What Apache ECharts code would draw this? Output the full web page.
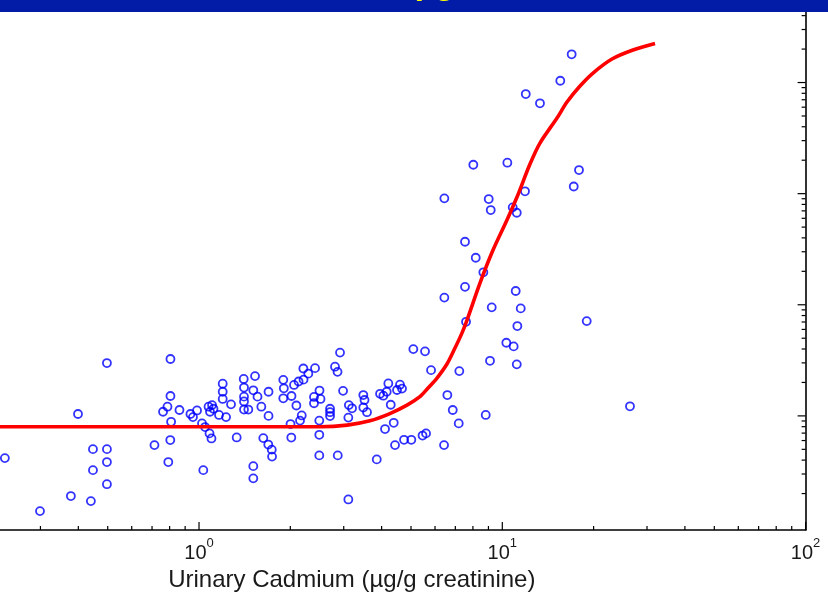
<!DOCTYPE html>
<html>
<head>
<meta charset="utf-8">
<script src="https://cdn.jsdelivr.net/npm/echarts@6/dist/echarts.min.js"></script>
<style>
  html, body { margin: 0; padding: 0; background: #ffffff; }
  #chart { width: 828px; height: 592px; }
</style>
</head>
<body>
<div id="chart"></div>
<script>
// Urinary cadmium (µg/g creatinine) for each subject
const cadmium = [
  0.229, 0.299, 0.378, 0.440, 0.399, 0.497, 0.447, 0.497, 0.447, 0.497, 0.497,
  0.713, 0.805, 0.805, 0.787, 0.761, 0.809, 0.804, 0.792, 0.862, 0.937, 0.955, 0.985,
  1.023, 1.047, 1.083, 1.099, 1.033, 1.075, 1.104, 1.116, 1.087, 1.164, 1.228, 1.197,
  1.197, 1.197, 1.275, 1.331, 1.404, 1.407, 1.407, 1.407, 1.407, 1.454, 1.530, 1.510,
  1.559, 1.605, 1.695, 1.695, 1.629, 1.692, 1.737, 1.741, 1.510, 1.510,
  1.896, 1.904, 1.896, 2.057, 2.018, 2.094, 2.208, 2.293, 2.413, 2.129, 2.211, 2.181,
  2.153, 2.003, 2.015, 2.394, 2.394, 2.515, 2.496, 2.492, 2.492, 2.492,
  2.917, 2.808, 2.862, 2.985, 2.704, 2.704, 2.704, 2.867, 3.107, 3.119, 3.195, 3.481,
  3.513, 3.481, 3.580, 3.953, 4.053, 4.209, 4.158, 4.599, 4.670, 4.496, 4.287, 4.385,
  4.105, 4.429, 4.742, 5.012, 5.458, 5.604, 3.855, 3.107, 5.089, 5.562, 5.822,
  7.215, 6.588, 6.864, 7.183, 6.425, 8.817, 9.109, 10.31, 10.90, 11.16, 16.93, 15.53,
  11.95, 13.31, 8.024, 10.39, 17.90, 17.20, 6.440, 9.020, 9.158, 11.88, 10.82, 11.16,
  7.534, 8.173, 8.659, 7.534, 6.440, 11.07, 9.228, 11.50, 18.98, 7.592, 11.21, 26.36
];

// Urinary β2-microglobulin (µg/g creatinine), same order as cadmium
const beta2mg = [
  41.7, 13.9, 19.0, 17.1, 104, 299, 50.2, 50.2, 32.5, 38.4, 24.3,
  54.6, 325, 151, 121, 109, 88.5, 60.6, 38.4, 113, 104, 97.5, 112,
  85.6, 79.3, 69.6, 62.7, 32.5, 121, 125, 116, 109, 102, 97.5, 195,
  165, 142, 127, 64.0, 215, 180, 149, 135, 114, 114, 228, 170,
  149, 121, 165, 100, 63.1, 55.2, 49.7, 43.0, 35.3, 27.4,
  211, 177, 144, 190, 151, 124, 267, 240, 269, 204, 212, 101,
  90.7, 84.4, 63.8, 148, 130, 142, 169, 90.7, 67.6, 44.1,
  371, 277, 249, 168, 116, 108, 99.6, 44.1, 96.5, 125, 117, 154,
  139, 119, 108, 158, 152, 196, 165, 191, 176, 171, 126, 86.7,
  76.1, 54.6, 60.9, 60.9, 66.5, 69.6, 40.6, 17.7, 399, 381, 258,
  253, 154, 113, 85.6, 54.6, 102, 313, 455, 422, 291, 179400, 103800,
  78800, 65000, 18200, 19000, 16300, 11600, 9070, 8940, 7120, 10500, 7530, 6730,
  3690, 2650, 1960, 1450, 1160, 1330, 948, 928, 713, 703, 643, 122
];

// Fitted dose-response curve
const fitCadmium = [0.2, 1.85, 2.51, 3.08, 3.66, 4.26, 4.85, 5.35, 5.69, 6.09, 6.57, 6.93, 7.36,
  7.65, 8.44, 9.32, 10.36, 11.18, 12.34, 13.31, 15.15, 16.34, 18.04, 19.91, 23.00, 26.97, 31.88];
const fitBeta2mg = [79.8, 79.8, 79.8, 82.6, 90.3, 105, 125, 149, 178, 219, 293, 391, 556,
  728, 1568, 3107, 5787, 9320, 18470, 28530, 47920, 66760, 93000, 121750, 162740, 196100, 224400];

// Axis ranges (the visible window of the plot) and tick positions
const X_MIN = 0.2207, X_MAX = 100;
const Y_MIN = 9.4, Y_MAX = 553000;
const xMajorTicks = [1, 10, 100];
const xMinorTicks = [0.3, 0.4, 0.5, 0.6, 0.7, 0.8, 0.9,
  2, 3, 4, 5, 6, 7, 8, 9, 20, 30, 40, 50, 60, 70, 80, 90];
const yMajorTicks = [100, 1000, 10000, 100000];
const yMinorTicks = [20, 30, 40, 50, 60, 70, 80, 90,
  200, 300, 400, 500, 600, 700, 800, 900,
  2000, 3000, 4000, 5000, 6000, 7000, 8000, 9000,
  20000, 30000, 40000, 50000, 60000, 70000, 80000, 90000,
  200000, 300000, 400000, 500000];

const points = cadmium.map((c, i) => [c, beta2mg[i]]);
const fitLine = fitCadmium.map((c, i) => [c, fitBeta2mg[i]]);

// inward tick marks: [x, y, direction (0 = up from x-axis, 1 = left from right axis), length]
const tickMarks = []
  .concat(xMajorTicks.map(v => [v, Y_MIN, 0, 8]))
  .concat(xMinorTicks.map(v => [v, Y_MIN, 0, 4]))
  .concat(yMajorTicks.map(v => [X_MAX, v, 1, 8]))
  .concat(yMinorTicks.map(v => [X_MAX, v, 1, 4]));

const chart = echarts.init(document.getElementById('chart'), null, { renderer: 'canvas' });

const isPow10 = v => Math.abs(Math.log10(v) - Math.round(Math.log10(v))) < 1e-9;

chart.setOption({
  animation: false,
  backgroundColor: '#ffffff',
  grid: { left: 0, right: 22.4, top: 0, bottom: 62, outerBoundsMode: 'none', containLabel: false },
  xAxis: {
    type: 'log',
    logBase: 10,
    min: X_MIN,
    max: X_MAX,
    name: 'Urinary Cadmium (µg/g creatinine)',
    nameLocation: 'middle',
    nameGap: 35,
    nameTextStyle: {
      fontFamily: 'Liberation Sans', fontSize: 24, color: '#1a1a1a',
      padding: [0, 102, 0, 0]
    },
    axisLine: { show: true, lineStyle: { color: '#000', width: 1.6 } },
    axisTick: { show: false },
    splitLine: { show: false },
    axisLabel: {
      margin: 7,
      formatter: v => isPow10(v) ? '{b|10}{s|' + Math.round(Math.log10(v)) + '}' : '',
      rich: {
        b: { fontFamily: 'Liberation Sans', fontSize: 20, color: '#1a1a1a', lineHeight: 26, verticalAlign: 'bottom' },
        s: { fontFamily: 'Liberation Sans', fontSize: 13, color: '#1a1a1a', lineHeight: 13, verticalAlign: 'top' }
      }
    }
  },
  yAxis: {
    type: 'log',
    logBase: 10,
    min: Y_MIN,
    max: Y_MAX,
    position: 'right',
    axisLine: { show: true, lineStyle: { color: '#000', width: 1.6 } },
    axisTick: { show: false },
    axisLabel: { show: false },
    splitLine: { show: false }
  },
  series: [
    {
      type: 'custom',
      silent: true,
      z: 3,
      data: tickMarks,
      encode: { x: 0, y: 1 },
      renderItem: (params, api) => {
        const p = api.coord([api.value(0), api.value(1)]);
        const len = api.value(3);
        const up = api.value(2) === 0;
        return {
          type: 'line',
          shape: up
            ? { x1: p[0], y1: p[1], x2: p[0], y2: p[1] - len }
            : { x1: p[0], y1: p[1], x2: p[0] - len, y2: p[1] },
          style: { stroke: '#000', lineWidth: 1.2 }
        };
      }
    },
    {
      type: 'scatter',
      data: points,
      symbol: 'circle',
      symbolSize: 8,
      itemStyle: { color: 'rgba(0,0,0,0)', borderColor: '#0000ff', borderWidth: 1.8 },
      z: 4
    },
    {
      type: 'line',
      data: fitLine,
      showSymbol: false,
      smooth: 0.3,
      lineStyle: { color: '#ff0000', width: 3.6 },
      z: 5
    }
  ],
  graphic: [
    {
      type: 'rect',
      z: 100,
      shape: { x: 0, y: 0, width: 828, height: 12 },
      style: { fill: '#021ca8' }
    },
    {
      type: 'text',
      z: 101,
      style: {
        text: 'Cadmium threshold at 5 µg',
        x: 455,
        y: -15,
        align: 'right',
        verticalAlign: 'middle',
        fontFamily: 'Liberation Sans',
        fontWeight: 'bold',
        fontSize: 34,
        fill: '#ffff00'
      }
    }
  ]
});
</script>
</body>
</html>
